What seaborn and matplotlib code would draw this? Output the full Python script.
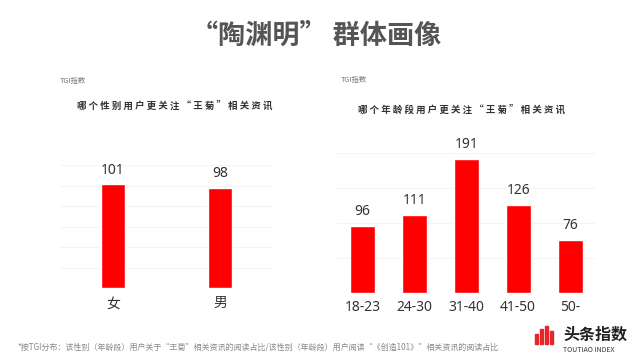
import matplotlib
matplotlib.use("Agg")
import matplotlib.pyplot as plt
from matplotlib.patches import Rectangle
import seaborn as sns
import pandas as pd

## Data ##
gender = ["女", "男"]
gender_tgi = [101, 98]

age_groups = ["18-23", "24-30", "31-40", "41-50", "50-"]
age_tgi = [96, 111, 191, 126, 76]

title = "“陶渊明” 群体画像"
sub_gender = "哪个性别用户更关注“王菊”相关资讯"
sub_age = "哪个年龄段用户更关注“王菊”相关资讯"
note = ("*按TGI分布：该性别（年龄段）用户关于“王菊”相关资讯的阅读占比/"
        "该性别（年龄段）用户阅读“《创造101》”相关资讯的阅读占比")

sns.set_theme(style="white")
plt.rcParams['font.family'] = ['Noto Sans CJK SC', 'DejaVu Sans']
num_font = ['Noto Sans', 'Noto Sans CJK SC', 'DejaVu Sans']

W, H = 640, 360
fig = plt.figure(figsize=(6.4, 3.6), dpi=100)
fig.patch.set_facecolor("white")


def px_axes(x0, x1, top, bottom):
    # pixel box (origin top-left) -> figure fraction axes
    return fig.add_axes([x0 / W, 1 - bottom / H, (x1 - x0) / W, (bottom - top) / H])


def bar_panel(ax, cats, vals, ymax, step, width, xlim, pad):
    df = pd.DataFrame({"cat": cats, "val": vals})
    sns.barplot(data=df, x="cat", y="val", color="#FF0000", saturation=1,
                width=width, ax=ax)
    ax.set_ylim(0, ymax)
    ax.set_xlim(*xlim)
    ax.set_yticks(range(0, ymax + 1, step))
    ax.set_yticklabels([])
    ax.yaxis.grid(True, color="#f4f4f4", lw=0.8)
    ax.set_axisbelow(True)
    sns.despine(ax=ax, left=True, bottom=True)
    ax.set_xlabel("")
    ax.set_ylabel("")
    ax.tick_params(axis="both", length=0)
    ax.tick_params(axis="x", pad=pad)
    for lab in ax.get_xticklabels():
        lab.set_family(num_font)
        lab.set_fontsize(10)
        lab.set_color("#333333")
    ax.bar_label(ax.containers[0], padding=5, fontsize=10, color="#333333",
                 family=num_font)
    ax.set_facecolor("none")


ax1 = px_axes(60, 272, 165, 288)
bar_panel(ax1, gender, gender_tgi, 120, 20, 0.224, (-0.495, 1.486), 6)

ax2 = px_axes(337, 595, 153, 293)
bar_panel(ax2, age_groups, age_tgi, 200, 50, 0.48, (-0.49, 4.48), 5)

# titles
fig.text(316 / W, 1 - 36 / H, title, ha="center", va="center",
         fontsize=19.5, fontweight="bold", color="#555555")
fig.text(60 / W, 1 - 81 / H, "TGI指数", ha="left", va="center",
         fontsize=5.3, color="#777777")
fig.text(341 / W, 1 - 80 / H, "TGI指数", ha="left", va="center",
         fontsize=5.3, color="#777777")
fig.text(175 / W, 1 - 106 / H, " ".join(sub_gender), ha="center", va="center",
         fontsize=6.8, fontweight="bold", color="#333333")
fig.text(462 / W, 1 - 110 / H, " ".join(sub_age), ha="center", va="center",
         fontsize=6.8, fontweight="bold", color="#333333")

# footnote
fig.text(17 / W, 1 - 347 / H, note, ha="left", va="center",
         fontsize=5.8, color="#888888")

# logo
for bx, btop in [(535, 334), (540, 329), (545, 326), (550, 331)]:
    fig.patches.append(Rectangle((bx / W, 1 - 344 / H), 3 / W, (344 - btop) / H,
                                 transform=fig.transFigure, color="#E8252B"))
fig.text(563 / W, 1 - 335 / H, "头条指数", ha="left", va="center",
         fontsize=11.5, fontweight="bold", color="#222222")
fig.text(563 / W, 1 - 350 / H, "TOUTIAO INDEX", ha="left", va="center",
         fontsize=5, color="#333333")

fig.savefig("out.png", dpi=100, facecolor="white")
